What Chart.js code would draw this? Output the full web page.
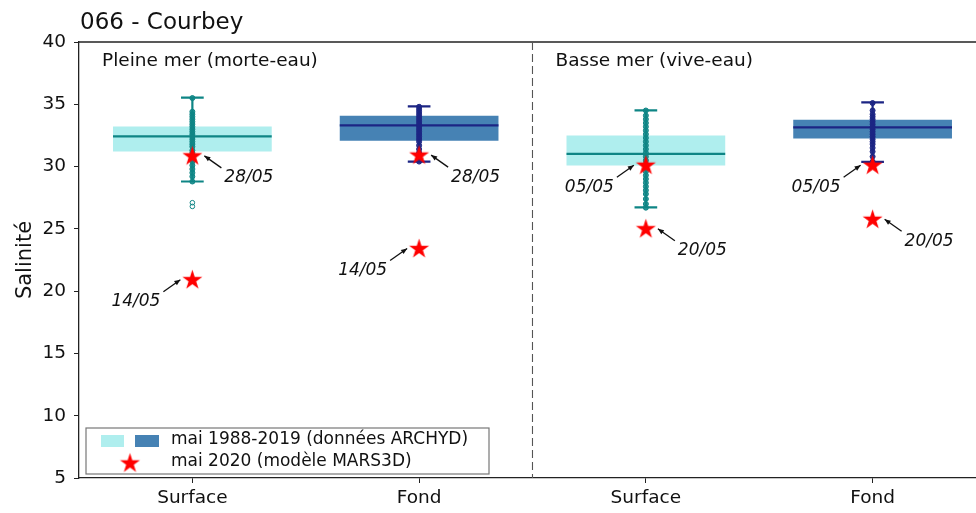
<!DOCTYPE html>
<html>
<head>
<meta charset="utf-8">
<script src="https://cdn.jsdelivr.net/npm/chart.js@4.4.1/dist/chart.umd.min.js"></script>
<style>
  html, body { margin: 0; padding: 0; background: #fff; overflow: hidden; }
  #wrap { position: relative; width: 976px; height: 513px; }
  canvas { display: block; }
</style>
</head>
<body>
<div id="wrap"><canvas id="salChart"></canvas></div>
<script>
// --- data ---
const chartTitle = '066 - Courbey';
const categories = ['Surface', 'Fond', 'Surface', 'Fond'];
const groupLabels = ['Pleine mer (morte-eau)', 'Basse mer (vive-eau)'];
const yMin = 5, yMax = 40, yStep = 5;
const xMin = -0.5, xMax = 3.456; // right side of the figure is cut off

const boxQ1 = [31.2, 32.07, 30.08, 32.25];
const boxQ3 = [33.22, 34.08, 32.5, 33.76];
const boxMedian = [32.42, 33.3, 31.02, 33.14];
const whiskerLow = [28.8, 30.4, 26.73, 30.38];
const whiskerHigh = [35.53, 34.83, 34.51, 35.15];

const obsSurfacePM = [28.8, 29.2, 29.5, 29.8, 30.1, 30.4, 30.6, 30.9, 31.1, 31.3, 31.6, 31.8, 32.0, 32.2, 32.4, 32.6, 32.8, 33.0, 33.2, 33.4, 33.6, 33.8, 34.0, 34.2, 34.4, 35.5];
const obsFondPM = [30.4, 30.8, 31.1, 31.4, 31.7, 32.0, 32.2, 32.4, 32.6, 32.8, 33.0, 33.2, 33.4, 33.6, 33.8, 34.0, 34.2, 34.4, 34.6, 34.8];
const obsSurfaceBM = [26.7, 27.0, 27.4, 27.8, 28.1, 28.4, 28.7, 29.0, 29.3, 29.6, 29.9, 30.2, 30.5, 30.8, 31.1, 31.4, 31.7, 32.0, 32.3, 32.6, 32.9, 33.2, 33.5, 33.8, 34.1, 34.5];
const obsFondBM = [30.4, 30.8, 31.2, 31.5, 31.8, 32.0, 32.2, 32.4, 32.6, 32.8, 33.0, 33.2, 33.4, 33.6, 33.8, 34.0, 34.2, 34.5, 35.1];
const outSurfacePM = [26.8, 27.1];

const modelCategory = [0, 0, 1, 1, 2, 2, 3, 3];
const modelValues = [21.0, 30.94, 23.5, 31.0, 30.19, 25.09, 30.19, 25.85];
const modelDates = ['14/05', '28/05', '14/05', '28/05', '05/05', '20/05', '05/05', '20/05'];

const legendLabels = ['mai 1988-2019 (données ARCHYD)', 'mai 2020 (modèle MARS3D)'];

// --- styles ---
const FONT = "'DejaVu Sans', sans-serif";
const boxFill = ['#afeeee', '#4682b4', '#afeeee', '#4682b4'];
const lineCol = ['#0e8585', '#1c2584', '#0e8585', '#1c2584'];
const dotFill = ['rgba(14,133,133,0.85)', 'rgba(28,37,132,0.9)'];

function makeStar(r, color) {
  const c = document.createElement('canvas');
  const s = Math.ceil(r * 2 + 2);
  c.width = s; c.height = s;
  const g = c.getContext('2d');
  g.beginPath();
  for (let i = 0; i < 10; i++) {
    const rad = i % 2 === 0 ? r : r * 0.382;
    const a = -Math.PI / 2 + i * Math.PI / 5;
    g.lineTo(s / 2 + rad * Math.cos(a), s / 2 + 1.5 + rad * Math.sin(a));
  }
  g.closePath();
  g.fillStyle = color;
  g.fill();
  return c;
}
const starImg = makeStar(10.5, '#ff0000');

function obsPoints(idx, vals) {
  return vals.map(v => ({ x: idx, y: v }));
}

// median + whiskers, drawn right after the boxes
const boxExtras = {
  id: 'boxExtras',
  afterDatasetDraw(chart, args) {
    if (args.meta.type !== 'bar') return;
    const ctx = chart.ctx, xs = chart.scales.x, ys = chart.scales.y;
    ctx.save();
    args.meta.data.forEach((bar, i) => {
      const half = bar.width / 2;
      ctx.strokeStyle = lineCol[i];
      ctx.lineWidth = 2.2;
      ctx.beginPath();
      ctx.moveTo(bar.x - half, ys.getPixelForValue(boxMedian[i]));
      ctx.lineTo(bar.x + half, ys.getPixelForValue(boxMedian[i]));
      ctx.stroke();
      const yl = ys.getPixelForValue(whiskerLow[i]);
      const yh = ys.getPixelForValue(whiskerHigh[i]);
      const c0 = xs.getPixelForValue(i - 0.05), c1 = xs.getPixelForValue(i + 0.05);
      ctx.beginPath();
      ctx.moveTo(bar.x, yl); ctx.lineTo(bar.x, yh);
      ctx.moveTo(c0, yl); ctx.lineTo(c1, yl);
      ctx.moveTo(c0, yh); ctx.lineTo(c1, yh);
      ctx.stroke();
    });
    ctx.restore();
  }
};

// frame top line and dashed separator
const frame = {
  id: 'frame',
  beforeDatasetsDraw(chart) {
    const ctx = chart.ctx, a = chart.chartArea, xs = chart.scales.x;
    ctx.save();
    ctx.strokeStyle = '#222';
    ctx.lineWidth = 1.3;
    ctx.beginPath();
    ctx.moveTo(a.left, a.top); ctx.lineTo(a.right, a.top);
    ctx.stroke();
    const xm = xs.getPixelForValue(1.5);
    ctx.strokeStyle = '#555';
    ctx.lineWidth = 1.1;
    ctx.setLineDash([8, 4]);
    ctx.beginPath();
    ctx.moveTo(xm, a.top); ctx.lineTo(xm, a.bottom);
    ctx.stroke();
    ctx.restore();
  }
};

// texts, annotations, legend
const overlay = {
  id: 'overlay',
  afterDraw(chart) {
    const ctx = chart.ctx, a = chart.chartArea, xs = chart.scales.x, ys = chart.scales.y;
    ctx.save();
    ctx.fillStyle = '#111';
    ctx.textBaseline = 'middle';
    ctx.font = '23px ' + FONT;
    ctx.fillText(chartTitle, a.left + 1, 23);

    ctx.font = '18.5px ' + FONT;
    ctx.fillText(groupLabels[0], xs.getPixelForValue(-0.5) + 23, a.top + 19);
    ctx.fillText(groupLabels[1], xs.getPixelForValue(1.5) + 23, a.top + 19);

    // annotations
    ctx.font = 'italic 17px ' + FONT;
    modelValues.forEach((v, k) => {
      const sx = xs.getPixelForValue(modelCategory[k]);
      const sy = ys.getPixelForValue(v);
      const side = k % 2 === 0 ? -1 : 1;
      const tx = sx + side * 29, ty = sy + 13;
      const hx = sx + side * 12, hy = sy + 1;
      ctx.strokeStyle = '#111';
      ctx.lineWidth = 1.3;
      ctx.beginPath();
      ctx.moveTo(tx, ty); ctx.lineTo(hx, hy);
      ctx.stroke();
      const ang = Math.atan2(hy - ty, hx - tx);
      ctx.beginPath();
      ctx.moveTo(hx, hy);
      ctx.lineTo(hx - 6 * Math.cos(ang) + 2.5 * Math.sin(ang), hy - 6 * Math.sin(ang) - 2.5 * Math.cos(ang));
      ctx.lineTo(hx - 6 * Math.cos(ang) - 2.5 * Math.sin(ang), hy - 6 * Math.sin(ang) + 2.5 * Math.cos(ang));
      ctx.closePath();
      ctx.fill();
      ctx.textAlign = side > 0 ? 'left' : 'right';
      ctx.fillText(modelDates[k], sx + side * 32, sy + 23);
    });

    // legend
    const lx = a.left + 7, ly = a.bottom - 50;
    ctx.fillStyle = '#fff';
    ctx.fillRect(lx, ly, 403, 46);
    ctx.strokeStyle = '#777';
    ctx.lineWidth = 1.2;
    ctx.strokeRect(lx, ly, 403, 46);
    ctx.fillStyle = boxFill[0];
    ctx.fillRect(lx + 15, ly + 7, 23, 12);
    ctx.fillStyle = boxFill[1];
    ctx.fillRect(lx + 49, ly + 7, 24, 12);
    ctx.drawImage(starImg, lx + 44 - starImg.width / 2, ly + 34 - starImg.height / 2);
    ctx.fillStyle = '#111';
    ctx.textAlign = 'left';
    ctx.font = '17px ' + FONT;
    ctx.fillText(legendLabels[0], lx + 85, ly + 12);
    ctx.fillText(legendLabels[1], lx + 85, ly + 34);
    ctx.restore();
  }
};

const ctx = document.getElementById('salChart').getContext('2d');
const chart = new Chart(ctx, {
  data: {
    datasets: [
      {
        type: 'scatter',
        label: 'mai 2020 (modèle MARS3D)',
        data: modelValues.map((v, k) => ({ x: modelCategory[k], y: v })),
        pointStyle: starImg,
        pointRadius: 10,
        order: 0
      },
      { type: 'scatter', data: obsPoints(0, obsSurfacePM), pointRadius: 2.5, borderWidth: 1, borderColor: lineCol[0], backgroundColor: dotFill[0], order: 1 },
      { type: 'scatter', data: obsPoints(1, obsFondPM), pointRadius: 2.5, borderWidth: 1, borderColor: lineCol[1], backgroundColor: dotFill[1], order: 1 },
      { type: 'scatter', data: obsPoints(2, obsSurfaceBM), pointRadius: 2.5, borderWidth: 1, borderColor: lineCol[2], backgroundColor: dotFill[0], order: 1 },
      { type: 'scatter', data: obsPoints(3, obsFondBM), pointRadius: 2.5, borderWidth: 1, borderColor: lineCol[3], backgroundColor: dotFill[1], order: 1 },
      { type: 'scatter', data: obsPoints(0, outSurfacePM), pointRadius: 2.3, borderWidth: 1, borderColor: lineCol[0], backgroundColor: 'rgba(255,255,255,0)', order: 1 },
      {
        type: 'bar',
        label: 'mai 1988-2019 (données ARCHYD)',
        data: categories.map((c, i) => ({ x: i, y: [boxQ1[i], boxQ3[i]] })),
        backgroundColor: boxFill,
        borderWidth: 0,
        categoryPercentage: 1,
        barPercentage: 0.7,
        order: 5
      }
    ]
  },
  options: {
    responsive: true,
    maintainAspectRatio: false,
    animation: false,
    devicePixelRatio: 1,
    layout: { autoPadding: false, padding: { top: 42, left: 0, right: 0, bottom: 0 } },
    plugins: { legend: { display: false }, tooltip: { enabled: false } },
    scales: {
      x: {
        type: 'linear',
        min: xMin,
        max: xMax,
        offset: false,
        afterBuildTicks: s => { s.ticks = categories.map((c, i) => ({ value: i })); },
        afterFit: s => { s.height = 35; s.paddingLeft = 0; s.paddingRight = 0; },
        ticks: {
          callback: v => categories[v],
          color: '#111',
          font: { family: FONT, size: 18.5 },
          padding: 4,
          maxRotation: 0,
          autoSkip: false
        },
        grid: { offset: false, drawOnChartArea: false, drawTicks: true, tickLength: 5, color: '#222' },
        border: { display: true, color: '#222', width: 1.3 }
      },
      y: {
        min: yMin,
        max: yMax,
        afterFit: s => { s.width = 79; },
        ticks: {
          stepSize: yStep,
          color: '#111',
          font: { family: FONT, size: 18.5 },
          padding: 8
        },
        grid: { drawOnChartArea: false, drawTicks: true, tickLength: 5, color: '#222' },
        border: { display: true, color: '#222', width: 1.3 },
        title: {
          display: true,
          text: 'Salinité',
          color: '#111',
          font: { family: FONT, size: 21 },
          padding: { top: 13, bottom: 0 }
        }
      }
    }
  },
  plugins: [frame, boxExtras, overlay]
});
</script>
</body>
</html>
